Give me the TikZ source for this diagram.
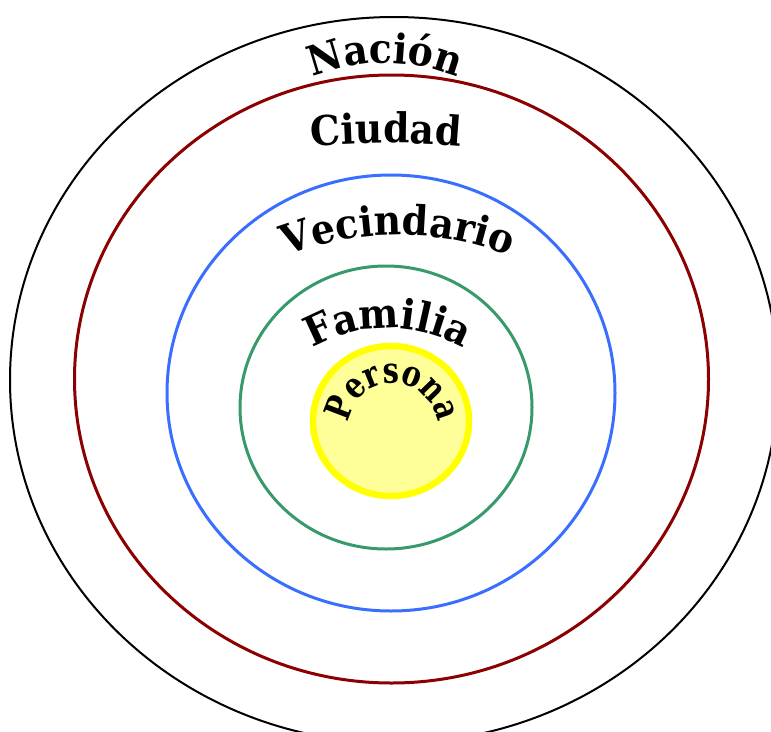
\documentclass[tikz,border=0pt]{standalone}
\usepackage{fontspec}
\setmainfont{DejaVu Serif}
\newfontfamily\ringfont[FakeStretch=0.92]{DejaVu Serif}
\newfontfamily\corefont[FakeStretch=0.8, LetterSpace=-8]{DejaVu Serif}
\usepackage{tikz}
\usetikzlibrary{shapes.geometric, decorations.text}
\definecolor{nacionblack}{HTML}{000000}
\definecolor{ciudadred}{HTML}{8B0000}
\definecolor{vecinoblue}{HTML}{3A6EFF}
\definecolor{familiagreen}{HTML}{38996A}
\definecolor{personayellow}{HTML}{FFFF00}
\definecolor{personafill}{HTML}{FFFF99}
\tikzstyle{ring}     = [ellipse, draw, inner sep=0pt, outer sep=0pt]
\tikzstyle{arclabel} = [decorate, decoration={text along path, text align=center, text format delimiters={|}{|}}]
\newcommand{\bigfont}{\ringfont\bfseries\fontsize{41}{43}\selectfont}
\newcommand{\smallfont}{\corefont\bfseries\fontsize{36}{38}\selectfont}

\begin{document}
\begin{tikzpicture}[x=1pt, y=-1pt]
  \useasboundingbox (0,0) rectangle (771,731);

  %the rings, outside in
  \foreach \name/\col/\lw/\cx/\cy/\w/\h in {
      nacion/nacionblack/2/394/380/768/726,
      ciudad/ciudadred/3/391.5/379/634/608,
      vecindario/vecinoblue/3/391/393/448/436,
      familia/familiagreen/3/386/407.5/292/283}{
    \node[ring, draw=\col, line width=\lw pt, minimum width=\w pt, minimum height=\h pt] (\name) at (\cx,\cy) {};
  }
  \node[ring, draw=personayellow, fill=personafill, line width=6.5pt,
        minimum width=156pt, minimum height=150pt] (persona) at (391,421) {};

  %centres of the label arcs
  \coordinate (nacionc) at (385,258);
  \coordinate (ciudadc) at (386,983);
  \coordinate (vecindarioc) at (398,540);
  \coordinate (familiac) at (388,480);
  \coordinate (personac) at (393,428);

  %labels along arcs
  \path[arclabel, decoration={text={|\bigfont|Nación}}]
    (nacionc) ++(-135:195) arc[start angle=-135, end angle=-45, radius=195];
  \path[arclabel, decoration={text={|\bigfont|Ciudad}}]
    (ciudadc) ++(-100:840) arc[start angle=-100, end angle=-80, radius=840];
  \path[arclabel, decoration={text={|\bigfont|Vecindario}}]
    (vecindarioc) ++(-140:305) arc[start angle=-140, end angle=-40, radius=305];
  \path[arclabel, decoration={text={|\bigfont|Familia}}]
    (familiac) ++(-160:152) arc[start angle=-160, end angle=-20, radius=152];
  \path[arclabel, decoration={text={|\smallfont|Persona}}]
    (personac) ++(-190:45) arc[start angle=-190, end angle=10, radius=45];
\end{tikzpicture}
\end{document}
